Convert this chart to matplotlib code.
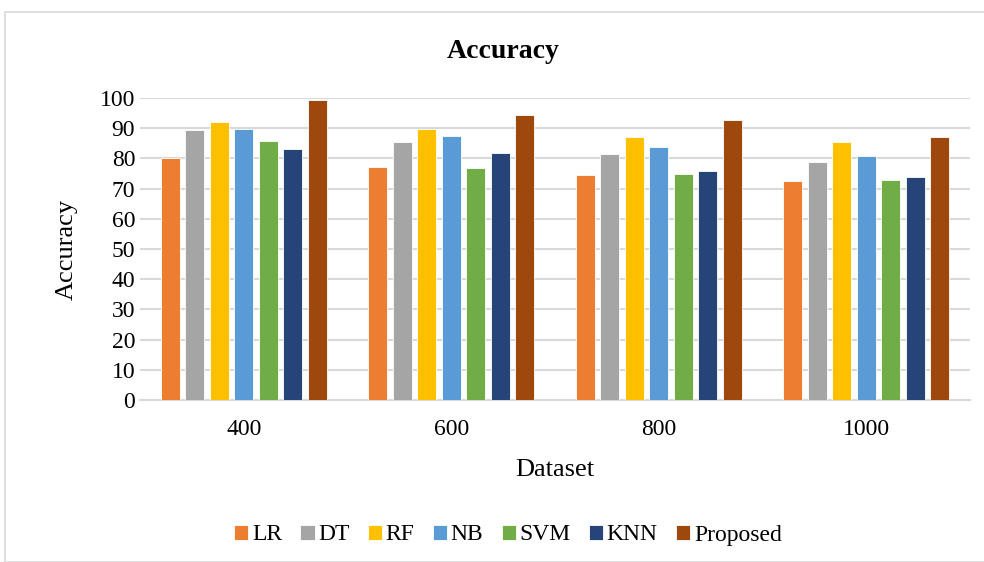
import numpy as np
import matplotlib
matplotlib.use('Agg')
import matplotlib.pyplot as plt
from matplotlib.patches import Rectangle

plt.rcParams['font.family'] = ['Liberation Serif', 'DejaVu Serif']

# data
datasets = ['400', '600', '800', '1000']
lr = [80.2, 77.0, 74.4, 72.5]
dt = [89.4, 85.3, 81.5, 78.7]
rf = [92.2, 89.7, 87.2, 85.3]
nb = [89.9, 87.3, 83.9, 80.9]
svm = [85.8, 76.7, 74.7, 73.0]
knn = [83.0, 81.7, 75.8, 73.8]
proposed = [99.4, 94.4, 92.8, 87.0]

series = [('LR', lr, '#ED7D31'),
          ('DT', dt, '#A5A5A5'),
          ('RF', rf, '#FFC000'),
          ('NB', nb, '#5B9BD5'),
          ('SVM', svm, '#70AD47'),
          ('KNN', knn, '#264478'),
          ('Proposed', proposed, '#9E480E')]

fig = plt.figure(figsize=(9.84, 5.62), dpi=100)
# outer chart border
fig.patches.append(Rectangle((5 / 984, 0), 1, 1 - 12 / 562, transform=fig.transFigure,
                             fill=False, edgecolor='#d9d9d9', linewidth=1.2))

ax = fig.add_axes([140 / 984, 1 - 400 / 562, 830 / 984, 302 / 562])

x = np.arange(len(datasets))
step = 0.118
width = 0.092
for i, (name, vals, color) in enumerate(series):
    ax.bar(x + (i - 3) * step, vals, width, color=color, label=name,
           edgecolor='white', linewidth=0.6, zorder=3)

ax.set_xlim(-0.5, len(datasets) - 0.5)
ax.set_ylim(0, 100)
ax.set_yticks(range(0, 101, 10))
ax.set_xticks(x)
ax.set_xticklabels(datasets)
ax.tick_params(axis='both', length=0, labelsize=17, colors='black')
ax.tick_params(axis='x', pad=14)
ax.grid(axis='y', color='#d9d9d9', linewidth=1.5, zorder=0)
for s in ['top', 'right', 'left']:
    ax.spines[s].set_visible(False)
ax.spines['bottom'].set_color('#d9d9d9')
ax.spines['bottom'].set_linewidth(1.5)

ax.set_xlabel('Dataset', fontsize=19, labelpad=13)
ax.set_ylabel('Accuracy', fontsize=19, labelpad=16)
fig.text(503 / 984, 1 - 52 / 562, 'Accuracy', ha='center', va='center',
         fontsize=20, fontweight='bold')

fig.legend(loc='center', bbox_to_anchor=(508 / 984, 1 - 535 / 562), ncol=7,
           frameon=False, fontsize=17, handlelength=0.6, handleheight=0.6,
           handletextpad=0.15, columnspacing=0.78)

fig.savefig('out.png', dpi=100)
